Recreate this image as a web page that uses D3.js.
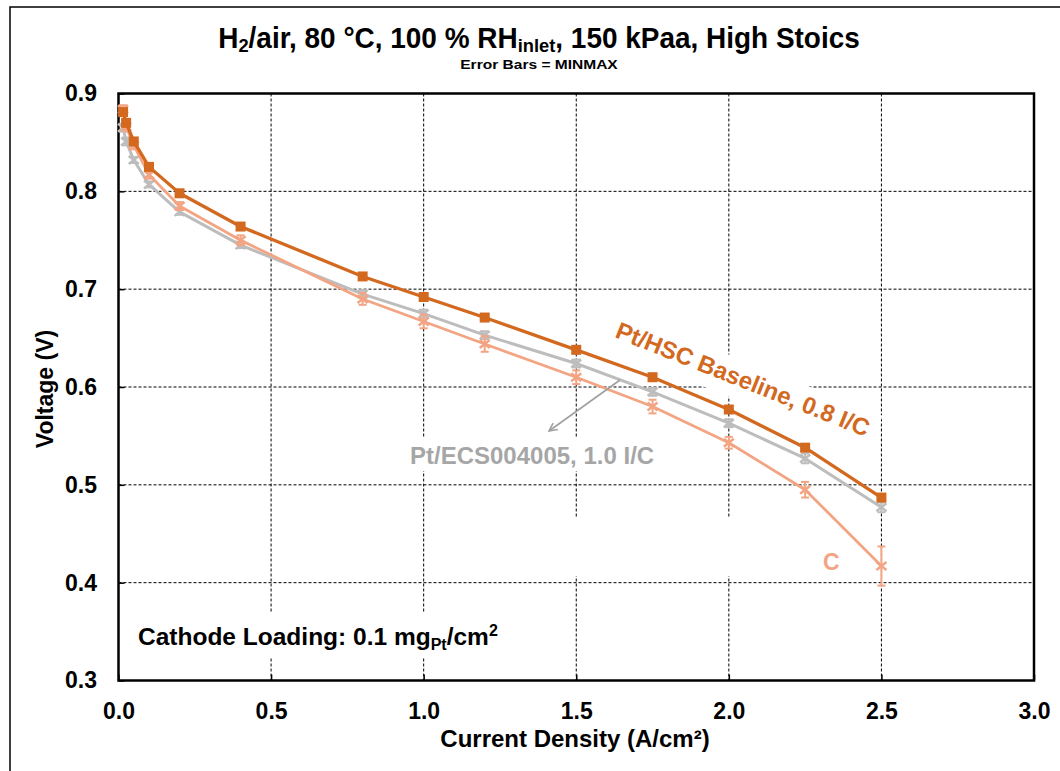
<!DOCTYPE html>
<html><head><meta charset="utf-8">
<script src="https://cdn.jsdelivr.net/npm/d3@7"></script>
<style>body{margin:0;background:#fff}svg{display:block;font-family:"Liberation Sans",Arial,sans-serif;font-weight:bold}</style>
</head><body><svg id="c" width="1060" height="771"></svg>
<script>
const xTicks=[0,0.5,1,1.5,2,2.5,3];
const yTicks=[0.3,0.4,0.5,0.6,0.7,0.8,0.9];
const current=[0.015,0.025,0.05,0.1,0.2,0.4,0.8,1.0,1.2,1.5,1.75,2.0,2.25,2.5];
const baselineV=[0.881,0.870,0.851,0.825,0.798,0.764,0.713,0.692,0.671,0.638,0.610,0.577,0.538,0.487];
const ecsV=[0.865,0.851,0.832,0.807,0.779,0.745,0.695,0.675,0.653,0.624,0.595,0.563,0.527,0.477];
const ecsErr=[0.004,0.004,0.003,0.003,0.003,0.003,0.004,0.004,0.004,0.004,0.004,0.004,0.005,0.005];
const lightV=[0.884,0.866,0.847,0.817,0.785,0.750,0.690,0.667,0.644,0.610,0.580,0.543,0.495,0.417];
const lightErr=[0.004,0.004,0.004,0.004,0.004,0.005,0.006,0.007,0.008,0.007,0.007,0.006,0.008,0.020];

const C_DARK="#D2691F", C_LIGHT="#F3A583", C_GREY="#BDBDBD", C_GREYTXT="#A6A6A6";

const svg=d3.select("#c");
const L=118.5,R=1034,T=93.5,B=680.5;
const x=d3.scaleLinear().domain([0,3]).range([L,R]);
const y=d3.scaleLinear().domain([0.3,0.9]).range([B,T]);

// outer border
svg.append("rect").attr("x",10).attr("y",7).attr("width",1200).attr("height",900)
  .attr("fill","none").attr("stroke","#000").attr("stroke-width",1.5);

// gridlines
const grid=svg.append("g").attr("stroke","#000").attr("stroke-width",1).attr("stroke-dasharray","3,2");
xTicks.filter(d=>d>0&&d<3).forEach(d=>grid.append("line").attr("x1",x(d)).attr("x2",x(d)).attr("y1",T).attr("y2",B));
yTicks.filter(d=>d>0.3&&d<0.9).forEach(d=>grid.append("line").attr("x1",L).attr("x2",R).attr("y1",y(d)).attr("y2",y(d)));

// white label backgrounds
svg.append("rect").attr("x",128).attr("y",613).attr("width",387).attr("height",45).attr("fill","#fff");
svg.append("rect").attr("x",400).attr("y",437).attr("width",268).attr("height",34).attr("fill","#fff");
svg.append("rect").attr("x",560).attr("y",518).attr("width",262).attr("height",58).attr("fill","#fff");

// axes
const xAxis=d3.axisBottom(x).tickValues(xTicks).tickFormat(d3.format(".1f")).tickSize(-6).tickPadding(22);
const yAxis=d3.axisLeft(y).tickValues(yTicks).tickFormat(d3.format(".1f")).tickSize(-6).tickPadding(21.5);
const gx=svg.append("g").attr("transform",`translate(0,${B})`).call(xAxis);
const gy=svg.append("g").attr("transform",`translate(${L},0)`).call(yAxis);
[gx,gy].forEach(g=>{
  g.select(".domain").remove();
  g.selectAll(".tick line").attr("stroke","#000").attr("stroke-width",1.5);
  g.selectAll(".tick text").attr("fill","#000").style("font-size","23px").style("font-family",'"Liberation Sans",Arial,sans-serif').style("font-weight","bold");
});
svg.append("rect").attr("x",L).attr("y",T).attr("width",R-L).attr("height",B-T)
  .attr("fill","none").attr("stroke","#000").attr("stroke-width",2.5);

// series
const line=d3.line().x(d=>x(d[0])).y(d=>y(d[1]));
function errSeries(vals,errs,color,lw){
  const pts=current.map((c,i)=>[c,vals[i],errs[i]]);
  svg.append("path").datum(pts).attr("d",line).attr("fill","none").attr("stroke",color).attr("stroke-width",lw).attr("stroke-linejoin","round");
  const g=svg.append("g").attr("stroke",color);
  pts.forEach(p=>{
    const cx=x(p[0]),y1=y(p[1]+p[2]),y2=y(p[1]-p[2]);
    g.append("line").attr("x1",cx).attr("x2",cx).attr("y1",y1).attr("y2",y2).attr("stroke-width",2);
    g.append("line").attr("x1",cx-4).attr("x2",cx+4).attr("y1",y1).attr("y2",y1).attr("stroke-width",2);
    g.append("line").attr("x1",cx-4).attr("x2",cx+4).attr("y1",y2).attr("y2",y2).attr("stroke-width",2);
    g.append("path").attr("d",`M${cx-5},${y(p[1])-4}L${cx+5},${y(p[1])+4}M${cx-5},${y(p[1])+4}L${cx+5},${y(p[1])-4}`).attr("stroke-width",2.5);
  });
}
errSeries(ecsV,ecsErr,C_GREY,3);
errSeries(lightV,lightErr,C_LIGHT,2.8);
const bpts=current.map((c,i)=>[c,baselineV[i]]);
svg.append("path").datum(bpts).attr("d",line).attr("fill","none").attr("stroke",C_DARK).attr("stroke-width",3.3).attr("stroke-linejoin","round");
svg.append("g").selectAll("rect").data(bpts).join("rect")
  .attr("x",d=>x(d[0])-5).attr("y",d=>y(d[1])-5).attr("width",10).attr("height",10).attr("fill",C_DARK);

// baseline label (rotated)
const bl=svg.append("g").attr("transform","translate(614,337) rotate(21.65)");
const blr=bl.append("rect").attr("fill","#fff");
const blt=bl.append("text").attr("x",0).attr("y",0).attr("fill",C_DARK).style("font-size","24px").text("Pt/HSC Baseline, 0.8 I/C");
const blw=blt.node().getComputedTextLength();
blr.attr("x",-8).attr("y",-26).attr("width",blw+16).attr("height",39);

// grey label + arrow
svg.append("defs").append("marker").attr("id","ah").attr("viewBox","0 0 10 10").attr("refX",9).attr("refY",5)
  .attr("markerWidth",10).attr("markerHeight",10).attr("markerUnits","userSpaceOnUse").attr("orient","auto")
  .append("path").attr("d","M1,1L9,5L1,9").attr("fill","none").attr("stroke","#A0A0A0").attr("stroke-width",1.6);
svg.append("line").attr("x1",620).attr("y1",380).attr("x2",549).attr("y2",431)
  .attr("stroke","#A0A0A0").attr("stroke-width",1.6).attr("marker-end","url(#ah)");
svg.append("text").attr("x",410).attr("y",464).attr("fill",C_GREYTXT).style("font-size","24px").text("Pt/ECS004005, 1.0 I/C");

// partially hidden light label
svg.append("text").attr("x",823).attr("y",570).attr("fill",C_LIGHT).style("font-size","23px").text("C");

// cathode loading annotation
const cl=svg.append("text").attr("x",138).attr("y",645).attr("fill","#000").style("font-size","24.5px");
cl.append("tspan").text("Cathode Loading: 0.1 mg");
cl.append("tspan").attr("dy",5).style("font-size","16px").text("Pt");
cl.append("tspan").attr("dy",-5).text("/cm");
cl.append("tspan").attr("dy",-9).style("font-size","16px").text("2");

// title
const tt=svg.append("text").attr("x",539).attr("y",48).attr("text-anchor","middle").attr("fill","#000").style("font-size","29px");
tt.append("tspan").text("H");
tt.append("tspan").attr("dy",4).style("font-size","19px").text("2");
tt.append("tspan").attr("dy",-4).text("/air, 80 °C, 100 % RH");
tt.append("tspan").attr("dy",4).style("font-size","19px").text("inlet");
tt.append("tspan").attr("dy",-4).text(", 150 kPaa, High Stoics");
const tw=tt.node().getBBox().width, sx=642/tw;
tt.attr("transform",`translate(539,0) scale(${sx},1) translate(-539,0)`);
const st=svg.append("text").attr("x",539).attr("y",69).attr("text-anchor","middle").attr("fill","#000").style("font-size","13px").text("Error Bars = MINMAX");
const sw=st.node().getBBox().width, ssx=158/sw;
st.attr("transform",`translate(539,0) scale(${ssx},1) translate(-539,0)`);

// axis titles
svg.append("text").attr("x",575).attr("y",747).attr("text-anchor","middle").attr("fill","#000").style("font-size","24px").text("Current Density (A/cm²)");
svg.append("text").attr("transform","translate(53,389) rotate(-90)").attr("text-anchor","middle").attr("fill","#000").style("font-size","23px").text("Voltage (V)");
</script></body></html>
